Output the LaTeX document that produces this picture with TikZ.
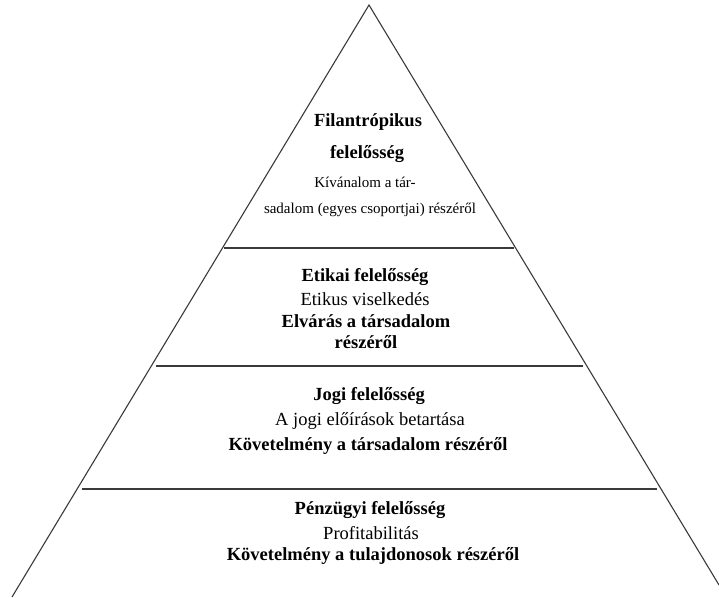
\documentclass[tikz,border=0pt]{standalone}
\usepackage{fontspec}
\setmainfont{Liberation Serif}
\usepackage{tikz}
\usetikzlibrary{calc}
\definecolor{PyrLine}{HTML}{3A3A3A}

\begin{document}
\begin{tikzpicture}[x=1pt,y=-1pt,
    side/.style={PyrLine,line width=1.1pt},
    layer/.style={PyrLine,line width=1.5pt},
    tbold/.style={font=\fontsize{18.5}{21}\selectfont\bfseries},
    tnorm/.style={font=\fontsize{18.5}{21}\selectfont},
    tsmall/.style={font=\fontsize{15}{18}\selectfont}]
    \useasboundingbox (0,0) rectangle (719,597);
    % Pyramid outline
    \coordinate (apex)  at (369,5);
    \coordinate (baseL) at (12,597);
    \coordinate (baseR) at (719,585);
    \draw[side] (baseL) -- (apex) -- (baseR);

    % Layer borders
    \draw[layer] (224,248) -- (514,248);
    \draw[layer] (156,366) -- (583,366);
    \draw[layer] (82,489)  -- (657,489);

    % Top layer
    \node[tbold]  (fil1) at (368,122) {Filantrópikus};
    \node[tbold]  (fil2) at (367,154) {felelősség};
    \node[tsmall] (fil3) at (365,182) {Kívánalom a tár-};
    \node[tsmall] (fil4) at (370,210) {sadalom (egyes csoportjai) részéről};

    % Ethics
    \node[tbold]  (eti1) at (365,277) {Etikai felelősség};
    \node[tnorm]  (eti2) at (365,299) {Etikus viselkedés};
    \node[tbold]  (eti3) at (366,321) {Elvárás a társadalom};
    \node[tbold]  (eti4) at (366,342) {részéről};

    % Legal
    \node[tbold]  (jog1) at (369,396) {Jogi felelősség};
    \node[tnorm]  (jog2) at (370,421) {A jogi előírások betartása};
    \node[tbold]  (jog3) at (368,446) {Követelmény a társadalom részéről};

    % Economic
    \node[tbold]  (pen1) at (370,510) {Pénzügyi felelősség};
    \node[tnorm]  (pen2) at (371,533) {Profitabilitás};
    \node[tbold]  (pen3) at (373,556) {Követelmény a tulajdonosok részéről};
\end{tikzpicture}
\end{document}
